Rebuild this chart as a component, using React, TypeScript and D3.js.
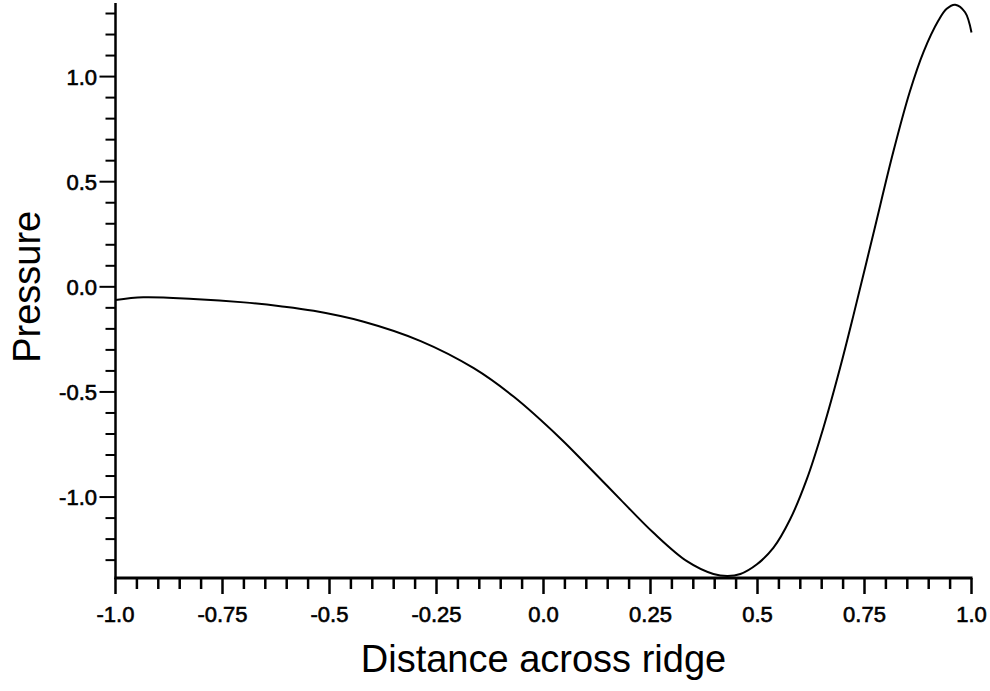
import React from "react";
import * as d3 from "d3";

const xValues = [-1.0, -0.935, -0.818, -0.70, -0.615, -0.537, -0.42, -0.287, -0.163, -0.07, 0.039, 0.10, 0.18, 0.257, 0.335, 0.397, 0.43, 0.46, 0.498, 0.537, 0.576, 0.615, 0.654, 0.693, 0.724, 0.771, 0.817, 0.856, 0.888, 0.923, 0.942, 0.962, 0.985, 1.0];
const pressure = [-0.063, -0.050, -0.058, -0.074, -0.092, -0.114, -0.166, -0.258, -0.387, -0.522, -0.720, -0.845, -1.012, -1.170, -1.305, -1.366, -1.376, -1.366, -1.321, -1.242, -1.107, -0.916, -0.670, -0.385, -0.137, 0.255, 0.640, 0.929, 1.118, 1.268, 1.323, 1.342, 1.306, 1.210];

const xMajorTicks = [-1.0, -0.75, -0.5, -0.25, 0.0, 0.25, 0.5, 0.75, 1.0];
const xTickLabels = ["-1.0", "-0.75", "-0.5", "-0.25", "0.0", "0.25", "0.5", "0.75", "1.0"];
const yMajorTicks = [-1.0, -0.5, 0.0, 0.5, 1.0];
const yTickLabels = ["-1.0", "-0.5", "0.0", "0.5", "1.0"];
const xTitle = "Distance across ridge";
const yTitle = "Pressure";

const FONT = "'Liberation Sans', Arial, Helvetica, sans-serif";

export default function App() {
  const x = d3.scaleLinear().domain([-1, 1]).range([115.5, 971.5]);
  const y = d3.scaleLinear().domain([-1.385, 1.35]).range([578, 3]);

  const xMinor = d3.range(-1, 1.0001, 0.05).map((v) => +v.toFixed(2)).filter((v) => !xMajorTicks.some((m) => Math.abs(m - v) < 1e-6));
  const yMinor = d3.range(-1.3, 1.3001, 0.1).map((v) => +v.toFixed(2)).filter((v) => !yMajorTicks.some((m) => Math.abs(m - v) < 1e-6));

  const data = xValues.map((xv, i) => [xv, pressure[i]] as [number, number]);
  const line = d3.line<[number, number]>().x((d) => x(d[0])).y((d) => y(d[1])).curve(d3.curveCatmullRom.alpha(0.5));

  const x0 = x(-1);
  const yBase = y(-1.385);

  return (
    <svg width={990} height={691} style={{ position: "absolute", left: 0, top: 0, background: "#fff" }}>
      <path d={line(data) || ""} fill="none" stroke="#000" strokeWidth={2} />
      <line x1={x0} x2={x0} y1={y(1.35)} y2={yBase + 1} stroke="#000" strokeWidth={2.5} />
      {yMajorTicks.map((v, i) => (
        <g key={"ym" + i}>
          <line x1={x0 - 16} x2={x0} y1={y(v)} y2={y(v)} stroke="#000" strokeWidth={2} />
          <text x={97} y={y(v)} dy="0.36em" textAnchor="end" fontFamily={FONT} fontSize={22} fill="#000" stroke="#000" strokeWidth={0.6}>{yTickLabels[i]}</text>
        </g>
      ))}
      {yMinor.map((v, i) => (
        <line key={"yn" + i} x1={x0 - 10} x2={x0} y1={y(v)} y2={y(v)} stroke="#000" strokeWidth={2} />
      ))}
      <line x1={x0 - 1} x2={x(1) + 1} y1={yBase} y2={yBase} stroke="#000" strokeWidth={3} />
      {xMajorTicks.map((v, i) => (
        <g key={"xm" + i}>
          <line x1={x(v)} x2={x(v)} y1={yBase} y2={yBase + 16} stroke="#000" strokeWidth={2.5} />
          <text x={x(v)} y={622} textAnchor="middle" fontFamily={FONT} fontSize={22} fill="#000" stroke="#000" strokeWidth={0.6}>{xTickLabels[i]}</text>
        </g>
      ))}
      {xMinor.map((v, i) => (
        <line key={"xn" + i} x1={x(v)} x2={x(v)} y1={yBase} y2={yBase + 11} stroke="#000" strokeWidth={2.5} />
      ))}
      <text x={(x(-1) + x(1)) / 2} y={672} textAnchor="middle" fontFamily={FONT} fontSize={38} fill="#000">{xTitle}</text>
      <text transform={`translate(40, ${y(0)}) rotate(-90)`} textAnchor="middle" fontFamily={FONT} fontSize={38} fill="#000">{yTitle}</text>
    </svg>
  );
}
